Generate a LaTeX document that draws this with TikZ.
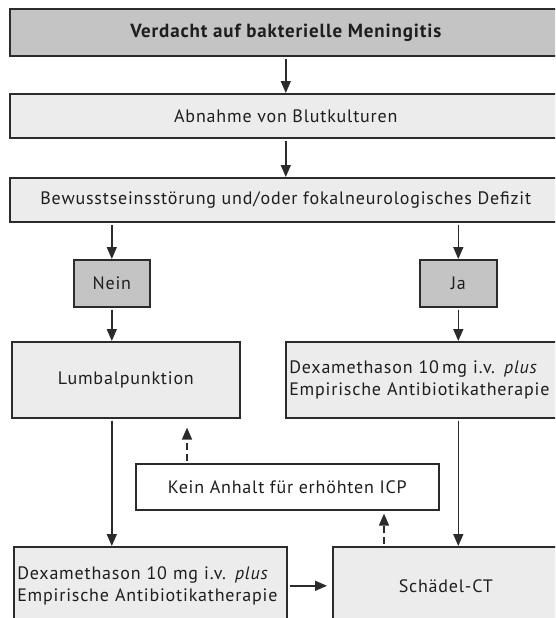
\documentclass[tikz,border=0pt]{standalone}
\usepackage{fontspec}
\setmainfont{PT Sans}[LetterSpace=4.5]
\usetikzlibrary{arrows.meta}
\definecolor{darkg}{HTML}{C4C4C4}
\definecolor{lightg}{HTML}{ECECEC}
\definecolor{linec}{HTML}{2B2B2B}
\definecolor{textc}{HTML}{1E1E1E}
\begin{document}
\begin{tikzpicture}[x=1pt,y=-1pt,
  box/.style={draw=linec, line width=1.6pt, fill=lightg, inner sep=0pt,
    anchor=north west, text=textc, font=\fontsize{18}{22}\selectfont},
  darkbox/.style={box, fill=darkg},
  whitebox/.style={box, fill=white},
  leftbox/.style={box, align=left, inner xsep=3.5pt},
  arr/.style={line width=1.5pt, draw=linec, shorten <=2pt,
    -{Triangle[width=10pt,length=12pt]}},
  darr/.style={arr, dash pattern=on 7pt off 4pt}]
\useasboundingbox (0,0) rectangle (555,618);
\clip (0,0) rectangle (555,618);

\node[darkbox, minimum width=552pt, minimum height=47pt,
  font=\fontsize{19}{22}\selectfont\bfseries] (t1) at (9,8)
  {Verdacht auf bakterielle Meningitis};
\node[box, minimum width=552pt, minimum height=44pt] (t2) at (9,93)
  {Abnahme von Blutkulturen};
\node[box, minimum width=552pt, minimum height=44pt] (t3) at (9,177)
  {Bewusstseinsstörung und/oder fokalneurologisches Defizit};

\node[darkbox, minimum width=76pt, minimum height=47pt] (nein) at (73,259) {Nein};
\node[darkbox, minimum width=77pt, minimum height=47pt] (ja) at (419,259) {Ja};

\node[box, minimum width=228pt, minimum height=76pt] (lp) at (11,341) {Lumbalpunktion};
\node[leftbox, minimum width=290pt, minimum height=76pt, text width=283pt] (dexr) at (285,341)
  {\mbox{Dexamethason 10\,mg i.v. \textit{plus}}\\\mbox{Empirische Antibiotikatherapie}};

\node[whitebox, minimum width=303pt, minimum height=46pt] (kein) at (135,463)
  {Kein Anhalt für erhöhten ICP};

\node[leftbox, minimum width=273pt, minimum height=78pt, text width=266pt] (dexl) at (13,546)
  {\mbox{Dexamethason 10 mg i.v. \textit{plus}}\\\mbox{Empirische Antibiotikatherapie}};
\node[box, minimum width=226pt, minimum height=78pt] (ct) at (332,546) {Schädel-CT};

\draw[arr] (t1.south) -- (t2.north);
\draw[arr] (t2.south) -- (t3.north);
\draw[arr] (t3.south -| nein.north) -- (nein.north);
\draw[arr] (t3.south -| ja.north) -- (ja.north);
\draw[arr] (nein.south) -- (nein.south |- lp.north);
\draw[arr] (ja.south) -- (ja.south |- dexr.north);
\draw[arr] (lp.south -| nein.south) -- (dexl.north -| nein.south);
\draw[arr] (dexr.south -| ja.south) -- (ct.north -| ja.south);
\draw[darr, shorten >=9pt] ([xshift=52pt]kein.north west) -- ([xshift=52pt]kein.north west |- lp.south);
\draw[darr, shorten >=3pt] ([xshift=52pt]ct.north west) -- ([xshift=52pt]ct.north west |- kein.south);
\draw[arr, shorten >=5pt] (dexl.east) -- (dexl.east -| ct.west);
\end{tikzpicture}
\end{document}
